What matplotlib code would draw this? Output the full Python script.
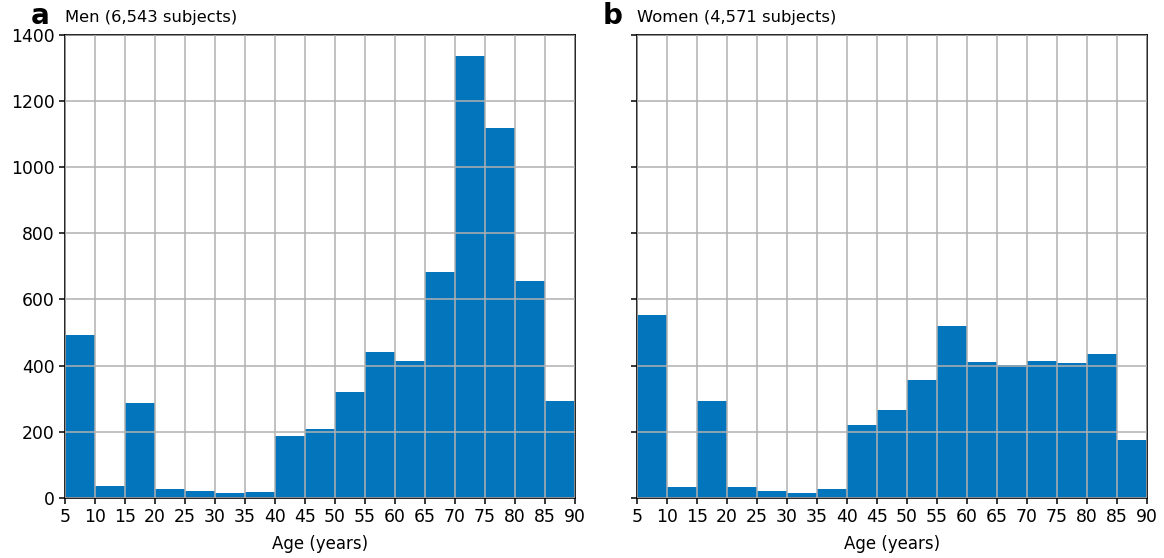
import matplotlib
matplotlib.use('Agg')
import matplotlib.pyplot as plt

plt.rcParams['font.family'] = ['DejaVu Sans']

bin_edges = [5, 10, 15, 20, 25, 30, 35, 40, 45, 50, 55, 60, 65, 70, 75, 80, 85, 90]
men_counts = [493, 36, 287, 27, 21, 15, 18, 187, 208, 320, 441, 414, 683, 1337, 1119, 656, 293]
women_counts = [552, 34, 292, 34, 19, 13, 25, 219, 265, 355, 519, 410, 401, 413, 407, 434, 174]
titles = ['Men (6,543 subjects)', 'Women (4,571 subjects)']
panel_letters = ['a', 'b']

bar_color = '#0375bc'

fig, axes = plt.subplots(1, 2, figsize=(11.64, 5.58), dpi=100, sharey=True)
fig.subplots_adjust(left=0.0558, right=0.9854, bottom=0.108, top=0.937, wspace=0.1216)

for ax, counts, title, letter in zip(axes, [men_counts, women_counts], titles, panel_letters):
    ax.hist(bin_edges[:-1], bins=bin_edges, weights=counts, color=bar_color)
    ax.set_axisbelow(False)
    ax.grid(True, color='#b0b0b0', linewidth=1.1)
    ax.set_xlim(5, 90)
    ax.set_ylim(0, 1400)
    ax.set_xticks(bin_edges)
    ax.set_yticks(range(0, 1401, 200))
    ax.tick_params(labelsize=12.4, length=4.5, width=1.1, pad=3)
    ax.set_xlabel('Age (years)', fontsize=12, labelpad=6.5)
    ax.set_title(title, loc='left', fontsize=11.8, pad=9.2)
    ax.text(-0.048, 1.012, letter, transform=ax.transAxes, fontsize=20,
            fontweight='bold', ha='center', va='bottom')
    for s in ax.spines.values():
        s.set_linewidth(1.2)

fig.savefig('out.png')
